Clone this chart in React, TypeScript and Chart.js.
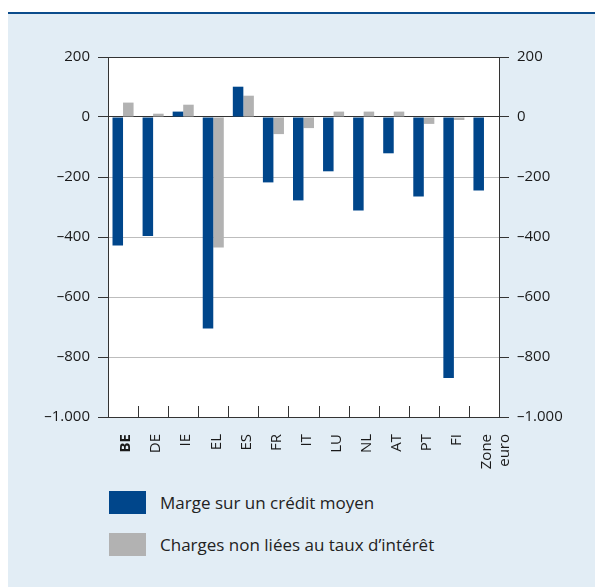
import React, { useEffect, useRef } from 'react';
import { Chart, registerables } from 'chart.js';

Chart.register(...registerables);

const categories: (string | string[])[] = ['BE', 'DE', 'IE', 'EL', 'ES', 'FR', 'IT', 'LU', 'NL', 'AT', 'PT', 'FI', ['Zone', 'euro']];
const margeValues = [-428, -397, 18, -705, 101, -218, -278, -181, -312, -121, -265, -870, -245];
const chargesValues = [48, 11, 41, -435, 71, -57, -37, 18, 18, 18, -23, -10, null];
const yTicks = [200, 0, -200, -400, -600, -800, -1000];
const seriesLabels = ['Marge sur un crédit moyen', 'Charges non liées au taux d’intérêt'];

const BLUE = '#00468b';
const GRAY = '#b2b2b2';
const BG = '#e2edf5';
const AXIS = '#333333';
const FONT = "'Open Sans', 'Noto Sans', sans-serif";

const fmt = (v: number) =>
  (v < 0 ? '–' : '') + String(Math.abs(v)).replace(/\B(?=(\d{3})+(?!\d))/g, '.');

const xTickMarks = {
  id: 'xTickMarks',
  afterDraw(chart: any) {
    const x = chart.scales.x;
    const ctx = chart.ctx;
    const n = x.ticks.length;
    const half = (x.getPixelForValue(1) - x.getPixelForValue(0)) / 2;
    const bottom = chart.chartArea.bottom;
    ctx.save();
    ctx.strokeStyle = AXIS;
    ctx.lineWidth = 1;
    ctx.beginPath();
    for (let i = 0; i <= n; i++) {
      const px = Math.round(x.getPixelForValue(Math.min(i, n - 1)) + (i < n ? -half : half)) + 0.5;
      ctx.moveTo(px, bottom);
      ctx.lineTo(px, bottom - 11);
    }
    ctx.stroke();
    ctx.restore();
  },
};

function BarChart() {
  const ref = useRef<HTMLCanvasElement>(null);
  useEffect(() => {
    if (!ref.current) return;
    const gridColor = (c: any) => {
      const v = c.tick ? c.tick.value : null;
      return v === 0 || v === 200 || v === -1000 ? AXIS : '#bdbdbd';
    };
    const yCommon = {
      min: -1000,
      max: 200,
      afterBuildTicks: (s: any) => {
        s.ticks = yTicks.map((v) => ({ value: v }));
      },
      border: { display: true, color: AXIS, width: 1 },
      ticks: {
        color: '#1a1a1a',
        font: { family: FONT, size: 15 },
        padding: 8,
        callback: (v: any) => fmt(Number(v)),
      },
    };
    const chart = new Chart(ref.current, {
      type: 'bar',
      data: {
        labels: categories as any,
        datasets: [
          { label: seriesLabels[0], data: margeValues, backgroundColor: BLUE, yAxisID: 'y' },
          { label: seriesLabels[1], data: chargesValues as any, backgroundColor: GRAY, yAxisID: 'y' },
        ],
      },
      options: {
        responsive: false,
        animation: false,
        events: [],
        layout: { padding: { top: 43, left: 0, right: 0, bottom: 0 } },
        datasets: { bar: { categoryPercentage: 0.7, barPercentage: 1.0 } },
        plugins: { legend: { display: false }, tooltip: { enabled: false } },
        scales: {
          x: {
            grid: { display: false, drawTicks: false },
            border: { display: true, color: AXIS, width: 1 },
            afterFit: (s: any) => {
              s.height = 53;
            },
            ticks: {
              minRotation: 90,
              maxRotation: 90,
              autoSkip: false,
              padding: 17,
              labelOffset: 3,
              color: '#1a1a1a',
              font: (c: any) => ({ family: FONT, size: 15, weight: c.index === 0 ? 'bold' : 'normal' }),
            },
          },
          y: {
            ...yCommon,
            position: 'left',
            afterFit: (s: any) => {
              s.width = 100;
            },
            grid: { color: gridColor, tickColor: AXIS, tickLength: 10, lineWidth: 1 },
          } as any,
          y2: {
            ...yCommon,
            position: 'right',
            afterFit: (s: any) => {
              s.width = 96;
            },
            grid: { drawOnChartArea: false, tickColor: AXIS, tickLength: 10, lineWidth: 1 },
          } as any,
        },
      },
      plugins: [
        {
          id: 'plotBg',
          beforeDraw(chart: any) {
            const { left, top, width, height } = chart.chartArea;
            chart.ctx.save();
            chart.ctx.fillStyle = '#ffffff';
            chart.ctx.fillRect(left, top, width, height);
            chart.ctx.restore();
          },
        },
        xTickMarks,
      ],
    });
    return () => chart.destroy();
  }, []);
  return (
    <canvas
      ref={ref}
      width={587}
      height={456}
      style={{ position: 'absolute', left: 0, top: 0, display: 'block' }}
    />
  );
}

export default function App() {
  const legendColors = [BLUE, GRAY];
  return (
    <div
      style={{
        position: 'absolute',
        left: 8,
        top: 12,
        width: 587,
        height: 575,
        boxSizing: 'border-box',
        background: BG,
        borderTop: '2px solid #0b4c8c',
        fontFamily: FONT,
      }}
    >
      <BarChart />
      {seriesLabels.map((label, i) => (
        <div
          key={label}
          style={{
            position: 'absolute',
            left: 101,
            top: 477 + i * 42,
            height: 23,
            display: 'flex',
            alignItems: 'center',
            whiteSpace: 'nowrap',
          }}
        >
          <div style={{ width: 37, height: 23, background: legendColors[i], marginRight: 14 }} />
          <span style={{ fontSize: 17, color: '#222' }}>{label}</span>
        </div>
      ))}
    </div>
  );
}
